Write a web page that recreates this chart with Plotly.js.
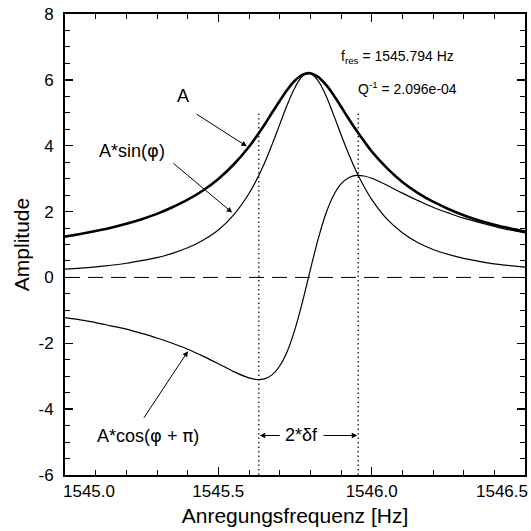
<!DOCTYPE html>
<html>
<head>
<meta charset="utf-8">
<script src="https://cdn.plot.ly/plotly-3.0.1.min.js"></script>
<style>html,body{margin:0;padding:0;background:#fff;}#chart{width:531px;height:531px;}</style>
</head>
<body>
<div id="chart"></div>
<script>
// Excitation frequency [Hz]
const freq = [1545.00,1545.05,1545.10,1545.15,1545.20,1545.25,1545.30,1545.35,1545.40,1545.45,1545.50,1545.55,1545.60,1545.625,1545.65,1545.675,1545.70,1545.725,1545.75,1545.775,1545.80,1545.825,1545.85,1545.875,1545.90,1545.925,1545.95,1545.975,1546.00,1546.05,1546.10,1546.15,1546.20,1546.25,1546.30,1546.35,1546.40,1546.45,1546.50];
// A
const ampA = [1.24,1.32,1.41,1.51,1.63,1.77,1.93,2.13,2.36,2.64,2.99,3.43,3.97,4.29,4.63,5.00,5.36,5.70,5.98,6.16,6.20,6.09,5.86,5.55,5.19,4.82,4.47,4.14,3.83,3.32,2.90,2.57,2.30,2.08,1.89,1.73,1.60,1.49,1.39];
// A*sin(phi)
const ampSin = [0.25,0.28,0.32,0.37,0.43,0.51,0.60,0.73,0.90,1.13,1.44,1.90,2.55,2.97,3.46,4.03,4.64,5.25,5.77,6.12,6.19,5.98,5.54,4.96,4.34,3.75,3.22,2.76,2.37,1.77,1.36,1.06,0.85,0.70,0.58,0.49,0.41,0.36,0.31];
// A*cos(phi+pi)
const ampCos = [-1.22,-1.29,-1.37,-1.47,-1.57,-1.70,-1.84,-2.00,-2.18,-2.39,-2.62,-2.86,-3.05,-3.10,-3.08,-2.96,-2.69,-2.24,-1.57,-0.72,0.23,1.15,1.92,2.48,2.84,3.03,3.10,3.08,3.01,2.80,2.56,2.34,2.13,1.96,1.80,1.67,1.55,1.44,1.35];
// half-width markers
const halfWidthFreqs = [1545.632, 1545.956];
const xTickVals = [1545.5, 1546.0];
const xTickText = ['1545.5', '1546.0'];
const xEndLabels = ['1545.0', '1546.5'];
const xRange = [1545.0, 1546.5];
const yTickVals = [-6, -4, -2, 0, 2, 4, 6, 8];
const yTickText = ['-6', '-4', '-2', '0', '2', '4', '6', '8'];
const fRes = '1545.794 Hz';
const qInv = '2.096e-04';

const FONT = 'Liberation Sans, Arial, Helvetica, sans-serif';
const PHI = '<span style="font-family:DejaVu Sans">φ</span>';
const PI = '<span style="font-family:DejaVu Sans">π</span>';

const traces = [
  {x: freq, y: ampSin, type: 'scatter', mode: 'lines', line: {color: '#000', width: 1.2, shape: 'spline'}, hoverinfo: 'skip'},
  {x: freq, y: ampCos, type: 'scatter', mode: 'lines', line: {color: '#000', width: 1.2, shape: 'spline'}, hoverinfo: 'skip'},
  {x: freq, y: ampA, type: 'scatter', mode: 'lines', line: {color: '#000', width: 2.6, shape: 'spline'}, hoverinfo: 'skip'}
];

const shapes = [
  {type: 'line', xref: 'paper', yref: 'y', x0: 0, x1: 1, y0: 0, y1: 0, line: {color: '#000', width: 1, dash: '15px,8px'}},
  {type: 'line', xref: 'x', yref: 'y', x0: halfWidthFreqs[0], x1: halfWidthFreqs[0], y0: -6, y1: 5.0, line: {color: '#000', width: 1.2, dash: '1.5px,3px'}},
  {type: 'line', xref: 'x', yref: 'y', x0: halfWidthFreqs[1], x1: halfWidthFreqs[1], y0: -6, y1: 5.0, line: {color: '#000', width: 1.2, dash: '1.5px,3px'}}
];

function arrow(x, y, ax, ay) {
  return {x: x, y: y, ax: ax, ay: ay, xref: 'x', yref: 'y', axref: 'x', ayref: 'y', text: '', showarrow: true,
          arrowhead: 2, arrowsize: 1.1, arrowwidth: 1, arrowcolor: '#000'};
}

const lblFont = {family: FONT, size: 18, color: '#000'};
const annotations = [
  {x: 1545.385, y: 5.51, xref: 'x', yref: 'y', text: 'A', showarrow: false, font: lblFont},
  arrow(1545.593, 3.98, 1545.424, 4.99),
  {x: 1545.218, y: 3.87, xref: 'x', yref: 'y', text: 'A*sin(' + PHI + ')', showarrow: false, font: lblFont},
  arrow(1545.545, 1.97, 1545.349, 3.50),
  {x: 1545.271, y: -4.80, xref: 'x', yref: 'y', text: 'A*cos(' + PHI + ' + ' + PI + ')', showarrow: false, font: lblFont},
  arrow(1545.401, -2.24, 1545.254, -4.31),
  {x: 1545.770, y: -4.80, xref: 'x', yref: 'y', text: '2*δf', showarrow: false, font: lblFont},
  arrow(halfWidthFreqs[0] + 0.003, -4.80, 1545.705, -4.80),
  arrow(halfWidthFreqs[1] - 0.003, -4.80, 1545.838, -4.80),
  {x: 1545.895, y: 6.69, xref: 'x', yref: 'y', xanchor: 'left', text: 'f<sub>res</sub> = ' + fRes, showarrow: false, font: {family: FONT, size: 14, color: '#000'}},
  {x: 1545.950, y: 5.75, xref: 'x', yref: 'y', xanchor: 'left', text: 'Q<sup>-1</sup> = ' + qInv, showarrow: false, font: {family: FONT, size: 14, color: '#000'}},
  {x: xRange[0], y: 0, xref: 'x', yref: 'paper', xanchor: 'left', yanchor: 'top', xshift: -4, yshift: -5, text: xEndLabels[0], showarrow: false, font: {family: FONT, size: 17, color: '#000'}},
  {x: xRange[1], y: 0, xref: 'x', yref: 'paper', xanchor: 'right', yanchor: 'top', xshift: 5, yshift: -5, text: xEndLabels[1], showarrow: false, font: {family: FONT, size: 17, color: '#000'}}
];

const layout = {
  width: 531, height: 531,
  margin: {l: 65, r: 6, t: 14, b: 56},
  paper_bgcolor: '#fff', plot_bgcolor: '#fff',
  showlegend: false,
  font: {family: FONT, color: '#000'},
  xaxis: {
    range: xRange, tickmode: 'array', tickvals: xTickVals, ticktext: xTickText,
    ticks: 'inside', ticklen: 8, tickwidth: 1.5, tickcolor: '#000',
    minor: {dtick: 0.1, ticks: 'inside', ticklen: 5, tickwidth: 1, tickcolor: '#000'},
    showline: true, linewidth: 2, linecolor: '#000', mirror: 'ticks',
    showgrid: false, zeroline: false,
    tickfont: {family: FONT, size: 17, color: '#000'},
    title: {text: 'Anregungsfrequenz [Hz]', font: {family: FONT, size: 21, color: '#000'}, standoff: 8}
  },
  yaxis: {
    range: [-6, 8], tickmode: 'array', tickvals: yTickVals, ticktext: yTickText,
    ticks: 'inside', ticklen: 8, tickwidth: 1.5, tickcolor: '#000',
    minor: {dtick: 0.5, ticks: 'inside', ticklen: 5, tickwidth: 1, tickcolor: '#000'},
    showline: true, linewidth: 2, linecolor: '#000', mirror: 'ticks',
    showgrid: false, zeroline: false,
    tickfont: {family: FONT, size: 17, color: '#000'},
    ticklabelstandoff: 6,
    title: {text: 'Amplitude', font: {family: FONT, size: 21, color: '#000'}, standoff: 3}
  },
  shapes: shapes,
  annotations: annotations
};

Plotly.newPlot('chart', traces, layout, {staticPlot: true, displayModeBar: false});
</script>
</body>
</html>
